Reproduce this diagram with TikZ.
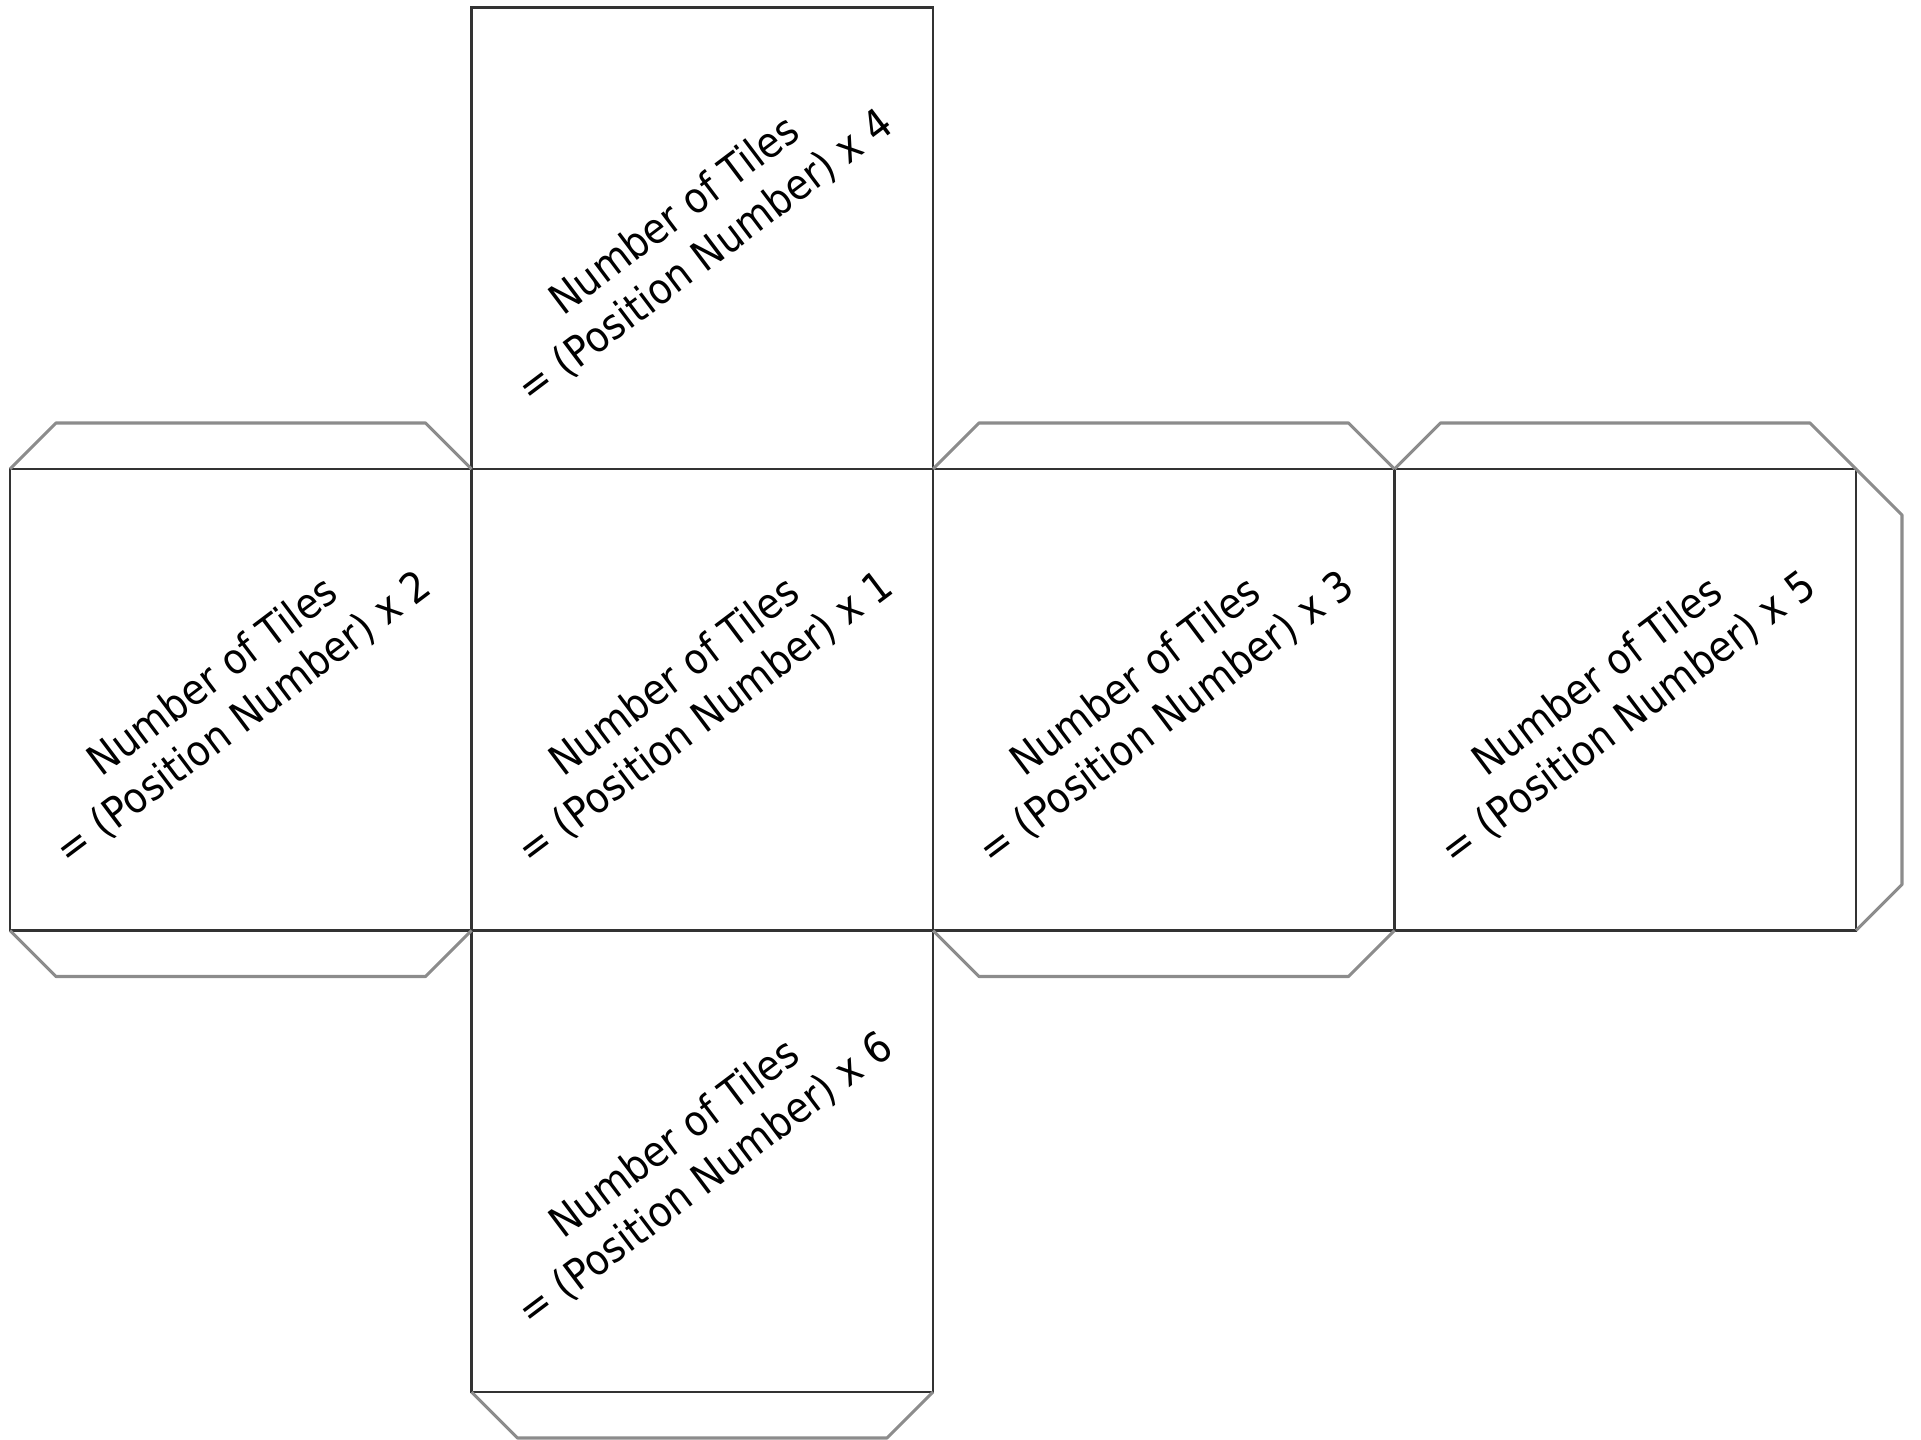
\documentclass[tikz,border=0pt]{standalone}
\usepackage{fontspec}
\newfontfamily\facefont{DejaVu Sans Condensed}
\begin{document}
\begin{tikzpicture}[
        x=1cm, y=1cm,
        face/.style    ={draw=black!80, line width=0.6pt},
        flap/.style    ={draw=black!45, line width=0.9pt, line join=round},
        facetext/.style={font=\facefont\fontsize{12}{14.6}\selectfont, align=center,
                         rotate=37, inner sep=0pt},
    ]
    \useasboundingbox (0,0) rectangle (19.21,14.39);

    \def\ox{0.10}     % left edge of net
    \def\oy{0.47}     % bottom edge of net
    \def\s{4.615}     % face side
    \def\t{0.46}      % flap depth

    %% Faces (column/row/number)
    \foreach \c/\r/\n in {1/0/6, 0/1/2, 1/1/1, 2/1/3, 3/1/5, 1/2/4} {
        \draw[face] (\ox + \c*\s, \oy + \r*\s) rectangle ++(\s,\s);
        \node[facetext] (lbl\n) at (\ox + \c*\s + \s/2 - 0.12, \oy + \r*\s + \s/2 + 0.02)
            {Number of Tiles\\= (Position Number) x \n};
    }

    %% Flaps on top edges
    \foreach \c in {0, 2, 3}
        \draw[flap] (\ox + \c*\s, \oy + 2*\s) -- ++(\t,\t) -- ++({\s-2*\t},0) -- ++(\t,-\t);
    %% Flaps on bottom edges
    \foreach \c in {0, 2}
        \draw[flap] (\ox + \c*\s, \oy + \s) -- ++(\t,-\t) -- ++({\s-2*\t},0) -- ++(\t,\t);
    \draw[flap] (\ox + \s, \oy) -- ++(\t,-\t) -- ++({\s-2*\t},0) -- ++(\t,\t);
    %% Flap on right edge
    \draw[flap] (\ox + 4*\s, \oy + 2*\s) -- ++(\t,-\t) -- ++(0,{-\s+2*\t}) -- ++(-\t,-\t);

\end{tikzpicture}
\end{document}
